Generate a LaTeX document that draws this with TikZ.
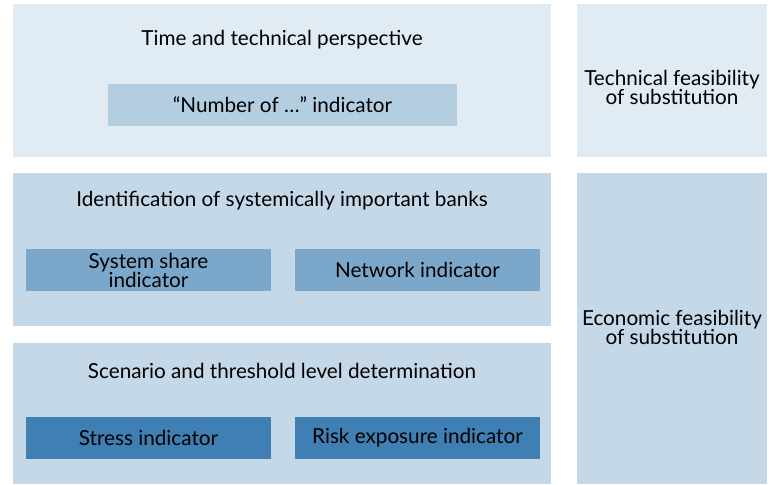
\documentclass[tikz,border=0pt]{standalone}
\usepackage{fontspec}
\setmainfont{Lato}
\definecolor{paleblue}{HTML}{E1EBF4}
\definecolor{softblue}{HTML}{C5D8E8}
\definecolor{lightblue}{HTML}{B3CDE1}
\definecolor{midblue}{HTML}{7BA7CB}
\definecolor{deepblue}{HTML}{3F7FB3}
\tikzset{
	panel/.style={inner sep=0pt, outer sep=0pt},
	caption/.style={inner sep=0pt, align=center, font=\fontsize{20.7}{19}\selectfont}
}
\begin{document}
\begin{tikzpicture}[x=1pt, y=-1pt]
	\useasboundingbox (0,0) rectangle (775,484);
	
	% BIG PANELS
	\node[panel, fill=paleblue, minimum width=538pt, minimum height=153pt] (time) at (282,80.5) {};
	\node[panel, fill=paleblue, minimum width=190pt, minimum height=153pt] (tech) at (672,80.5) {};
	\node[panel, fill=softblue, minimum width=538pt, minimum height=153pt] (banks) at (282,249.5) {};
	\node[panel, fill=softblue, minimum width=538pt, minimum height=141pt] (scen) at (282,413.5) {};
	\node[panel, fill=softblue, minimum width=190pt, minimum height=311pt] (econ) at (672,328.5) {};
	
	% INDICATORS
	\node[panel, fill=lightblue, minimum width=349pt, minimum height=42pt] (number) at (282.5,105) {};
	\node[panel, fill=midblue, minimum width=245pt, minimum height=42pt] (share) at (148.5,270) {};
	\node[panel, fill=midblue, minimum width=245pt, minimum height=42pt] (network) at (417.5,270) {};
	\node[panel, fill=deepblue, minimum width=245pt, minimum height=42pt] (stress) at (148.5,438) {};
	\node[panel, fill=deepblue, minimum width=245pt, minimum height=42pt] (risk) at (417.5,438) {};
	
	% TEXTS
	\node[caption] (timetxt) at (282,40) {Time and technical perspective};
	\node[caption] (numbertxt) at (number) {“Number of …” indicator};
	\node[caption] (techtxt) at (672,87) {Technical feasibility\\of substitution};
	\node[caption] (bankstxt) at (282,201) {Identification of systemically important banks};
	\node[caption] (sharetxt) at (share) {System share\\indicator};
	\node[caption] (networktxt) at (network) {Network indicator};
	\node[caption] (scentxt) at (282,371) {Scenario and threshold level determination};
	\node[caption] (stresstxt) at (stress) {Stress indicator};
	\node[caption] (risktxt) at (risk) {Risk exposure indicator};
	\node[caption] (econtxt) at (672,327) {Economic feasibility\\of substitution};
\end{tikzpicture}
\end{document}
